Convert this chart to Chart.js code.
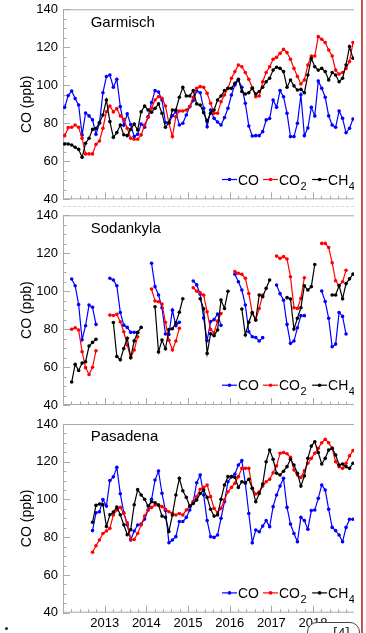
<!DOCTYPE html>
<html>
<head>
<title>CO, CO2 and CH4 at three sites</title>
<script src="https://cdn.jsdelivr.net/npm/chart.js"></script>
<style>
  body { margin: 0; background: #fff; font-family: "Liberation Sans", Arial, sans-serif; }
  #page { position: relative; width: 366px; height: 633px; overflow: hidden; background: #fff; }
  #crop { position: absolute; left: 0; top: 0; width: 354px; height: 633px; overflow: hidden; }
  .panel { position: absolute; left: 0; }
  .sep { position: absolute; left: 63px; top: 205.5px; width: 291px; border-top: 1px dashed #d8d8d8; }
  .edge { position: absolute; left: 361px; top: 0; width: 1.5px; height: 633px; background: #c85050; }
  .ref { position: absolute; left: 307px; top: 621.5px; width: 53px; height: 26px; border: 1.3px solid #444;
         border-radius: 10px; background: #fff; font-size: 15px; color: #333; box-sizing: border-box;
         padding: 1px 0 0 25px; }
  .dot { position: absolute; left: 5px; top: 627px; width: 3px; height: 3px; background: #222; border-radius: 50%; }
</style>
</head>
<body>
<div id="page">
  <div id="crop">
    <canvas id="c1" class="panel" width="366" height="210" style="top:0px"></canvas>
    <canvas id="c2" class="panel" width="366" height="210" style="top:205px"></canvas>
    <canvas id="c3" class="panel" width="366" height="219" style="top:414px"></canvas>
    <div class="sep"></div>
  </div>
  <div class="edge"></div>
  <div class="ref">[4]</div>
  <div class="dot"></div>
</div>

<script>
// monthly means, Jan 2012 .. Dec 2018 (month index 0..83)
const months = Array.from({ length: 84 }, (_, i) => 2012 + (i + 0.5) / 12);

// Garmisch, all 84 months
const garmischCO = [
  88.4, 94.6, 97, 93, 89.6, 73.9, 85.4, 83.9, 81.8, 74.2,
  80, 96.1, 104.6, 105.4, 99, 103.2, 88.8, 79, 85, 79.3,
  73, 74.2, 79.6, 77.9, 83.5, 90.9, 97.2, 96.5, 92.3, 80.4,
  80, 84, 86.1, 79.1, 80, 84.4, 88.8, 92, 97, 96.1,
  87.9, 78.2, 87, 82.6, 80.7, 79.1, 83, 87.9, 94.9, 100.2,
  102.8, 99, 90.5, 78.6, 73.3, 73.5, 73.5, 75.6, 81.8, 82.5,
  92.3, 88.4, 97.2, 94, 85.3, 73, 73, 80, 95, 73.5,
  77.5, 88.4, 83.9, 102.3, 98.4, 93.7, 83.9, 79.1, 77.9, 86.5,
  82.6, 75, 77.4, 82.3
];
const garmischCO2 = [
  73.5, 77.7, 77.9, 79.1, 77.9, 72.1, 63.9, 63.9, 63.9, 68.9,
  70.7, 77.4, 86.1, 89.1, 86, 87.7, 83.9, 82.1, 77.4, 72.1,
  71.6, 71.6, 73.9, 79.1, 83.2, 87.9, 92.3, 94, 93.2, 89.1,
  80, 73, 83.5, 86.5, 86.5, 87, 88.8, 93.7, 98.4, 99.3,
  99, 95.8, 90.5, 85.3, 85.3, 91.4, 94.9, 98.4, 103.7, 107.2,
  110.7, 109.8, 106.7, 103.2, 98.8, 94, 94.4, 101.9, 106.7, 109.8,
  113.7, 114.7, 116.8, 118.9, 117.2, 113.7, 108.9, 104.6, 100.7, 102.8,
  110.7, 115.4, 115.4, 125.6, 124.2, 122.5, 118.6, 115.4, 108, 105.9,
  106.7, 108.9, 112.5, 122.5
];
const garmischCH4 = [
  69.1, 69.1, 68.6, 67.4, 66.3, 62.1, 69.5, 72.1, 76.8, 77.2,
  80.4, 84.4, 92.3, 80.9, 72.6, 75.1, 79.1, 74, 73.5, 76.8,
  79.6, 76.5, 86.1, 89.1, 87, 85.8, 87.9, 90.2, 85.3, 77.9,
  80.4, 87, 87, 93.7, 98.9, 94.4, 94.4, 97.2, 90.2, 89.6,
  85.6, 81.2, 85.3, 87, 92.3, 94.4, 97.2, 98.4, 98.4, 101.1,
  103.2, 96.7, 95.4, 96.1, 98.4, 95.4, 96.7, 99, 101.9, 103.7,
  108, 109.5, 108.9, 107.2, 99, 102.8, 99.7, 97.5, 97.9, 96.1,
  105.4, 114.2, 109.8, 108, 108.9, 107.2, 102.8, 106.7, 105.4, 101.9,
  103.7, 110.7, 120.4, 114.2
];

// Sodankyla, seasonal pieces: first month index and values
const sodankylaCO = [
  { start: 2,  values: [106.4, 102.9, 93, 74.4, 81.8, 92.7, 91.5, 82.5] },
  { start: 13, values: [106.8, 105.9, 102.9, 88.8, 82.1, 80.9, 78.3, 78.3, 78.1] },
  { start: 25, values: [114.7, 102.4, 98, 91.3, 77.4, 77.2, 90, 81.8, 83.6] },
  { start: 37, values: [105.4, 103.3, 98.4, 85.8, 74, 84, 85, 88, 82] },
  { start: 49, values: [108.9, 105, 100.6, 92.7, 78.6, 76, 75.6, 73.7, 75.5] },
  { start: 61, values: [103.2, 98.7, 95.2, 82.5, 72.5, 73.7, 80.7, 87.1, 87.1] },
  { start: 74, values: [100.1, 94.5, 85.7, 70.7, 72.1, 88.8, 86.7, 77.4] }
];
const sodankylaCO2 = [
  { start: 2,  values: [79.9, 80.7, 79.5, 68.1, 59.7, 56.1, 59.9, 68.6] },
  { start: 13, values: [87.4, 87.2, 87.8, 83.9, 78.6, 71.6, 64.9, 69, 76] },
  { start: 25, values: [101.1, 94.8, 94.4, 93.2, 83.6, 74.1, 69, 73.7, 80.4] },
  { start: 37, values: [101.8, 100, 99.1, 97.9, 89.1, 79.8, 78.1, 84.2, 88.2] },
  { start: 49, values: [110.3, 109.4, 108.9, 106.8, 98.8, 88.3, 84.8, 90.9, 98] },
  { start: 61, values: [118.5, 117.3, 118.2, 117, 107.6, 91.3, 90.9, 96.2, 107.1] },
  { start: 74, values: [125.2, 125.2, 123, 115, 105.5, 103, 105, 111] }
];
const sodankylaCH4 = [
  { start: 2,  values: [52.1, 61.4, 58.2, 62.1, 62.8, 71.1, 73, 74.6] },
  { start: 14, values: [83.5, 65.6, 63.8, 69.8, 75.2, 65, 73.8, 78.3, 80.9] },
  { start: 26, values: [91.8, 68, 74.2, 69.6, 79.8, 80.2, 83.3, 88.9, 96] },
  { start: 39, values: [96, 90.7, 67.2, 77.5, 76.5, 79.5, 95.3, 90.9, 100] },
  { start: 51, values: [90.6, 76.9, 83.6, 88.8, 84.8, 98, 97.1, 101.5, 105.9] },
  { start: 64, values: [96.6, 95.9, 80, 85.7, 91.3, 102.9, 100.6, 102.4, 114.1] },
  { start: 77, values: [98, 98, 103, 96, 104, 106.5, 109] }
];

// Pasadena, from Sep 2012
const pasadenaStart = 8;
const pasadenaCO = [
  83.5, 93, 93.5, 100, 96.5, 110, 112, 117, 103, 93,
  86.5, 78.5, 83.3, 86.5, 87, 89.6, 94.4, 100.1, 110.3, 115.1,
  103.3, 94.1, 77.1, 78.5, 80.3, 88.3, 88.3, 90.5, 94.4, 98.8,
  108.9, 113, 102.4, 88.8, 80.3, 79.9, 81.2, 90, 98.8, 109.4,
  112.1, 113.5, 118.3, 120.6, 108.6, 92.6, 77.1, 83.8, 82.9, 85.9,
  88.8, 85.6, 96.2, 102.4, 107.1, 111.2, 95.8, 87, 82, 77.6,
  90.5, 88.8, 84.2, 94.1, 94.4, 100.6, 107.7, 105, 94.8, 85.2,
  83.5, 81.2, 77.6, 85.2, 89.5, 89.5
];
const pasadenaCO2 = [
  72, 75.5, 78.5, 82, 83.3, 84.7, 91.8, 94.4, 95.8, 92.6,
  87.6, 78.8, 78.8, 82, 86.5, 91.2, 94.4, 95.8, 97.1, 97.1,
  96.2, 94.8, 93.5, 92.6, 91.8, 92.6, 91.8, 94.4, 96.5, 98.8,
  101.5, 105.4, 106.4, 107.7, 101.5, 95.3, 93, 95.3, 99.7, 104.1,
  106.4, 108.6, 112.1, 116.5, 116.5, 116.5, 105.9, 102.9, 104.1, 107.1,
  109.4, 110.7, 114.2, 117.8, 124.5, 124.9, 124.2, 122.3, 115.6, 113,
  111.7, 115.2, 119.2, 121.8, 124.5, 127.1, 130.1, 131.9, 130.1, 127.1,
  120, 117.4, 116.5, 119.2, 123.1, 125.9
];
const pasadenaCH4 = [
  87.9, 96.9, 97.6, 97.2, 85.7, 91.9, 93.3, 96, 91.9, 86.6,
  81.3, 84, 97.2, 105.2, 102.4, 100.1, 96.5, 98.8, 98.3, 97.1,
  91.2, 90.5, 83, 91.8, 102.4, 111.2, 104.6, 101.1, 96.5, 97.9,
  99.7, 103.2, 105, 101.1, 94.8, 91.2, 91.8, 100.1, 107.7, 112.1,
  112.1, 111.7, 106.4, 109.4, 108.9, 110.7, 105.9, 98.8, 103.2, 108.2,
  120, 126.2, 121.3, 113.9, 113, 115, 117.4, 121.3, 118.3, 113.9,
  107.1, 112.5, 121.8, 128.3, 130.6, 124.9, 118.8, 121.8, 126.2, 127.1,
  123.6, 118.3, 118.8, 117.4, 116.5, 119.2
];

const yearLabels = [2013, 2014, 2015, 2016, 2017, 2018, 2019];

const seriesColors = ['#0000ff', '#ff0000', '#000000'];
const legendItems = [
  { text: 'CO', sub: '' },
  { text: 'CO', sub: '2' },
  { text: 'CH', sub: '4' }
];

Chart.defaults.font.family = '"Liberation Sans", Arial, sans-serif';
Chart.defaults.color = '#000';

function points(values, start) {
  return values.map((v, k) => ({ x: months[start + k], y: v }));
}

function piecePoints(pieces) {
  const full = months.map(() => null);
  pieces.forEach(p => p.values.forEach((v, k) => { full[p.start + k] = v; }));
  return months.map((m, i) => ({ x: m, y: full[i] }));
}

// axis frame with inward ticks, drawn under the data
const framePlugin = {
  id: 'frame',
  beforeDatasetsDraw(chart) {
    const { ctx, chartArea: a, scales: { x, y } } = chart;
    ctx.save();
    ctx.strokeStyle = '#a9a9a9';
    ctx.lineWidth = 1;
    ctx.beginPath();
    ctx.moveTo(a.left, a.top + 0.5); ctx.lineTo(a.right, a.top + 0.5);
    ctx.moveTo(a.left + 0.5, a.top); ctx.lineTo(a.left + 0.5, a.bottom);
    ctx.moveTo(a.left, a.bottom - 0.5); ctx.lineTo(a.right, a.bottom - 0.5);
    for (let v = 40; v <= 140; v += 5) {
      const py = Math.round(y.getPixelForValue(v)) + 0.5;
      ctx.moveTo(a.left, py); ctx.lineTo(a.left + (v % 20 === 0 ? 7 : 3.5), py);
    }
    for (let k = 1; k <= 36; k++) {
      const px = Math.round(x.getPixelForValue(2012 + k / 5)) + 0.5;
      ctx.moveTo(px, a.bottom); ctx.lineTo(px, a.bottom - (k % 5 === 0 ? 7 : 3.5));
    }
    ctx.stroke();
    ctx.restore();
  },
  afterDraw(chart, args, opts) {
    const { ctx, chartArea: a } = chart;
    ctx.save();
    // axis title
    ctx.translate(27, (a.top + a.bottom) / 2);
    ctx.rotate(-Math.PI / 2);
    ctx.font = '14px "Liberation Sans", Arial, sans-serif';
    ctx.fillStyle = '#000';
    ctx.textAlign = 'center';
    ctx.textBaseline = 'middle';
    ctx.fillText('CO (ppb)', 0, 0);
    ctx.restore();

    ctx.save();
    ctx.fillStyle = '#000';
    ctx.font = '15px "Liberation Sans", Arial, sans-serif';
    ctx.textBaseline = 'alphabetic';
    ctx.fillText(opts.name, 90.7, a.top + 17.2);

    // legend
    const ly = a.bottom - 19.8;
    let lx = 222;
    legendItems.forEach((it, i) => {
      ctx.strokeStyle = seriesColors[i];
      ctx.fillStyle = seriesColors[i];
      ctx.lineWidth = 1.2;
      ctx.beginPath();
      ctx.moveTo(lx, ly); ctx.lineTo(lx + 15, ly);
      ctx.stroke();
      ctx.beginPath();
      ctx.arc(lx + 7.5, ly, 1.8, 0, Math.PI * 2);
      ctx.fill();
      ctx.fillStyle = '#000';
      ctx.font = '14px "Liberation Sans", Arial, sans-serif';
      ctx.fillText(it.text, lx + 16, ly + 5);
      let w = lx + 16 + ctx.measureText(it.text).width;
      if (it.sub) {
        ctx.font = '11px "Liberation Sans", Arial, sans-serif';
        ctx.fillText(it.sub, w + 0.5, ly + 10);
        w += ctx.measureText(it.sub).width + 2;
      }
      lx = w + 4;
    });
    ctx.restore();
  }
};

function makePanel(id, name, data, padTop, padBottom, showYears) {
  const labels = ['CO', 'CO2', 'CH4'];
  new Chart(document.getElementById(id), {
    type: 'line',
    data: {
      datasets: data.map((d, i) => ({
        label: labels[i],
        data: d,
        borderColor: seriesColors[i],
        backgroundColor: seriesColors[i],
        borderWidth: 1.2,
        pointRadius: 1.8,
        pointBorderWidth: 0,
        pointBackgroundColor: seriesColors[i],
        spanGaps: false,
        tension: 0,
        order: 2 - i
      }))
    },
    options: {
      responsive: false,
      animation: false,
      devicePixelRatio: 1,
      layout: { padding: { left: 0, right: 7.1, top: padTop, bottom: padBottom } },
      plugins: { legend: { display: false }, tooltip: { enabled: false }, frame: { name: name } },
      scales: {
        x: {
          type: 'linear', min: 2012, max: 2019.1,
          grid: { display: false, drawTicks: false }, border: { display: false },
          ticks: {
            display: showYears, stepSize: 1, autoSkip: false, maxRotation: 0, padding: 3,
            font: { size: 13 },
            callback: v => yearLabels.includes(v) ? String(v) : ''
          },
          afterFit(s) { s.height = showYears ? 20.3 : 0; s.paddingLeft = 0; s.paddingRight = 0; }
        },
        y: {
          min: 40, max: 140,
          grid: { display: false, drawTicks: false }, border: { display: false },
          ticks: { stepSize: 20, padding: 5, font: { size: 13 } },
          afterFit(s) { s.width = 63; s.paddingTop = 0; s.paddingBottom = 0; }
        }
      }
    },
    plugins: [framePlugin]
  });
}

makePanel('c1', 'Garmisch',
  [points(garmischCO, 0), points(garmischCO2, 0), points(garmischCH4, 0)], 9.3, 10.7, false);
makePanel('c2', 'Sodankyla',
  [piecePoints(sodankylaCO), piecePoints(sodankylaCO2), piecePoints(sodankylaCH4)], 10.3, 10, false);
makePanel('c3', 'Pasadena',
  [points(pasadenaCO, pasadenaStart), points(pasadenaCO2, pasadenaStart), points(pasadenaCH4, pasadenaStart)], 10, 0, true);
</script>
</body>
</html>
